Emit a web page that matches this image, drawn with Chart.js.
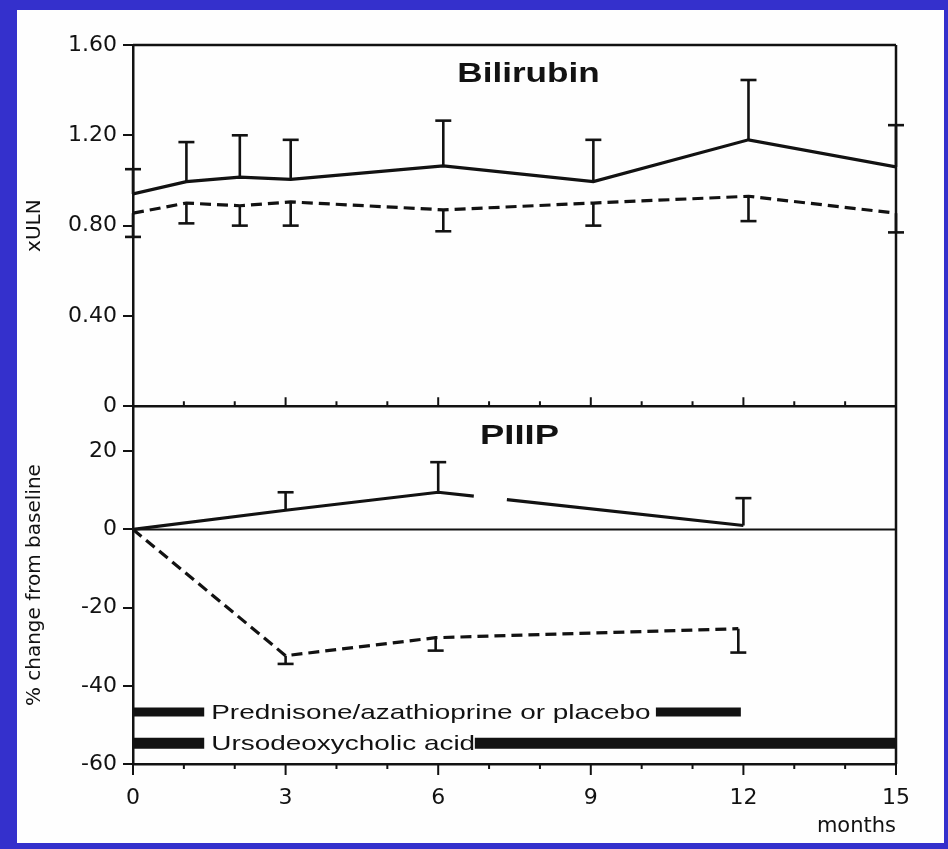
<!DOCTYPE html>
<html>
<head>
<meta charset="UTF-8">
<title>Bilirubin and PIIIP</title>
<script src="https://cdn.jsdelivr.net/npm/chart.js"></script>
<style>
  html, body { margin: 0; padding: 0; }
  body { width: 948px; height: 849px; background: #3430cc; position: relative; overflow: hidden; }
  .paper { position: absolute; left: 17px; top: 10px; width: 927px; height: 833px; background: #fefefe; }
</style>
</head>
<body>
<div class="paper"><canvas id="chart"></canvas></div>
<script>
// Bilirubin (xULN), two groups; error bars go up for the solid line, down for the dashed one
const biliMonths = [0, 1.05, 2.1, 3.1, 6.1, 9.05, 12.1, 15];
const biliSolid = [0.94, 0.995, 1.015, 1.005, 1.065, 0.995, 1.18, 1.06];
const biliSolidUpper = [1.05, 1.17, 1.20, 1.18, 1.265, 1.18, 1.445, 1.245];
const biliDashed = [0.855, 0.90, 0.888, 0.905, 0.87, 0.90, 0.93, 0.855];
const biliDashedLower = [0.75, 0.81, 0.80, 0.80, 0.775, 0.80, 0.82, 0.77];

// PIIIP (% change from baseline); the printed solid line has a break after 6 months
const piiipSolidMonths = [0, 3, 6, 6.7, 7, 7.35, 12];
const piiipSolid = [0, 4.9, 9.5, 8.5, null, 7.6, 1.0];
const piiipSolidUpper = [null, 9.5, 17.2, null, null, null, 8];
const piiipDashedMonths = [0, 3, 5.95, 11.9];
const piiipDashed = [0, -32.3, -27.7, -25.4];
const piiipDashedLower = [null, -34.4, -31, -31.5];

// treatment periods drawn as thick bars in the lower panel
const treatmentNames = ['Prednisone/azathioprine or placebo', 'Ursodeoxycholic acid'];
const treatmentLevels = [-46.7, -54.7];
const treatmentBars = [[[0, 1.4], [10.28, 11.95]], [[0, 1.4], [6.72, 15]]];

// axis ticks
const monthTicks = [0, 3, 6, 9, 12, 15];
const biliTicks = [0, 0.4, 0.8, 1.2, 1.6];
const piiipTicks = [-60, -40, -20, 0, 20];

const ink = '#121212';
const pts = (xs, ys) => xs.map((m, i) => ({ x: m, y: ys[i] }));

const datasets = [
  { data: pts(biliMonths, biliSolid), yAxisID: 'yB' },
  { data: pts(biliMonths, biliDashed), yAxisID: 'yB', borderDash: [11, 6] },
  { data: pts(piiipSolidMonths, piiipSolid), yAxisID: 'yP' },
  { data: pts(piiipDashedMonths, piiipDashed), yAxisID: 'yP', borderDash: [11, 6] }
];
treatmentBars.forEach((segs, r) => {
  segs.forEach(([from, to]) => {
    datasets.push({
      data: [{ x: from, y: treatmentLevels[r] }, { x: to, y: treatmentLevels[r] }],
      yAxisID: 'yP',
      borderWidth: r === 0 ? 9 : 11,
      borderCapStyle: 'butt'
    });
  });
});
datasets.forEach(d => {
  d.borderColor = ink;
  d.borderWidth = d.borderWidth || 3.2;
  d.pointRadius = 0;
  d.tension = 0;
  d.fill = false;
});

// frame, month ticks, error bars and in-panel texts
const paperPlugin = {
  id: 'paper',
  afterDatasetsDraw(chart) {
    const { ctx, chartArea: a, scales: { x, yB, yP } } = chart;
    const line = (x1, y1, x2, y2) => {
      ctx.beginPath(); ctx.moveTo(x1, y1); ctx.lineTo(x2, y2); ctx.stroke();
    };
    const text = (str, px, py, font, sx, align) => {
      ctx.save();
      ctx.translate(px, py);
      ctx.scale(sx, 1);
      ctx.font = font;
      ctx.textAlign = align;
      ctx.textBaseline = 'alphabetic';
      ctx.fillText(str, 0, 0);
      ctx.restore();
    };
    ctx.save();
    ctx.strokeStyle = ink;
    ctx.fillStyle = ink;
    ctx.lineCap = 'butt';

    ctx.lineWidth = 2.5;
    line(a.left, yB.top, a.right, yB.top);
    line(a.right, a.top, a.right, a.bottom);
    line(a.left, yB.bottom, a.right, yB.bottom);
    ctx.lineWidth = 2;
    const zeroP = yP.getPixelForValue(0);
    line(a.left, zeroP, a.right, zeroP);

    for (let m = x.min; m <= x.max; m++) {
      const px = x.getPixelForValue(m);
      const major = m % 3 === 0;
      line(px, yB.bottom, px, yB.bottom - (major ? 9 : 5));
      line(px, a.bottom, px, a.bottom + (major ? 11 : 5));
    }

    ctx.lineWidth = 2.6;
    const drawErr = (xs, base, tips, yScale) => {
      xs.forEach((m, i) => {
        if (tips[i] === null || base[i] === null) return;
        const px = x.getPixelForValue(m);
        const py0 = yScale.getPixelForValue(base[i]);
        const py1 = yScale.getPixelForValue(tips[i]);
        line(px, py0, px, py1);
        line(px - 8, py1, px + 8, py1);
      });
    };
    drawErr(biliMonths, biliSolid, biliSolidUpper, yB);
    drawErr(biliMonths, biliDashed, biliDashedLower, yB);
    drawErr(piiipSolidMonths, piiipSolid, piiipSolidUpper, yP);
    drawErr(piiipDashedMonths, piiipDashed, piiipDashedLower, yP);

    const mid = (a.left + a.right) / 2;
    text('Bilirubin', mid + 14, yB.top + 37, 'bold 27px "Liberation Sans"', 1.3, 'center');
    text('PIIIP', mid + 5, yB.bottom + 38, 'bold 28px "Liberation Sans"', 1.3, 'center');

    treatmentNames.forEach((name, r) => {
      const px = x.getPixelForValue(treatmentBars[r][0][1]) + 7;
      const py = yP.getPixelForValue(treatmentLevels[r]) + 7;
      text(name, px, py, '21px "Liberation Sans"', 1.33, 'left');
    });
    ctx.restore();
  }
};

Chart.defaults.font.family = '"DejaVu Sans", sans-serif';
Chart.defaults.color = ink;

new Chart(document.getElementById('chart'), {
  type: 'line',
  data: { datasets },
  plugins: [paperPlugin],
  options: {
    responsive: true,
    maintainAspectRatio: false,
    animation: false,
    layout: { padding: { top: 35, right: 48, bottom: 0, left: 0 } },
    plugins: { legend: { display: false }, tooltip: { enabled: false } },
    scales: {
      x: {
        type: 'linear', min: 0, max: 15,
        afterFit: s => { s.height = 79; },
        afterBuildTicks: s => { s.ticks = monthTicks.map(v => ({ value: v })); },
        grid: { drawOnChartArea: false, drawTicks: false },
        border: { color: ink, width: 2.5 },
        ticks: { color: ink, font: { size: 22 }, padding: 21, maxRotation: 0, autoSkip: false },
        title: { display: true, text: 'months', align: 'end', color: ink, font: { size: 21 }, padding: { top: 0, bottom: 4 } }
      },
      yP: {
        type: 'linear', position: 'left', stack: 'panels', stackWeight: 357.5,
        min: -60, max: 31.5,
        afterFit: s => { s.width = 116; },
        afterBuildTicks: s => { s.ticks = piiipTicks.map(v => ({ value: v })); },
        grid: { drawOnChartArea: false, color: ink, lineWidth: 2, tickLength: 10 },
        border: { color: ink, width: 2.5 },
        ticks: { color: ink, font: { size: 22 }, padding: 6 },
        title: { display: true, text: '% change from baseline', color: ink, font: { size: 20 }, padding: { top: 6, bottom: 4 } }
      },
      yB: {
        type: 'linear', position: 'left', stack: 'panels', stackWeight: 361,
        min: 0, max: 1.6,
        afterFit: s => { s.width = 116; },
        afterBuildTicks: s => { s.ticks = biliTicks.map(v => ({ value: v })); },
        grid: { drawOnChartArea: false, color: ink, lineWidth: 2, tickLength: 10 },
        border: { color: ink, width: 2.5 },
        ticks: { color: ink, font: { size: 22 }, padding: 6, callback: v => v === 0 ? '0' : v.toFixed(2) },
        title: { display: true, text: 'xULN', color: ink, font: { size: 20 }, padding: { top: 6, bottom: 4 } }
      }
    }
  }
});
</script>
</body>
</html>
